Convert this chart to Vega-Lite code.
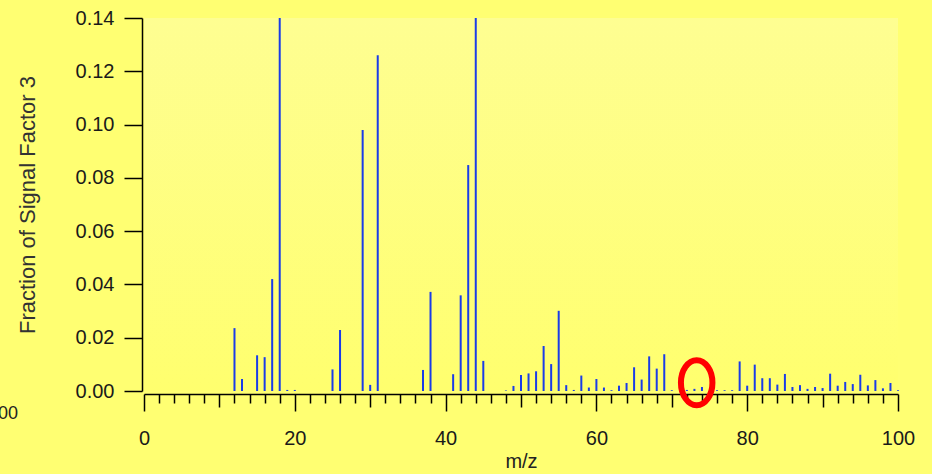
{
  "$schema": "https://vega.github.io/schema/vega-lite/v6.json",
  "width": 754,
  "height": 373,
  "autosize": {"type": "none"},
  "padding": {"left": 144, "top": 18, "right": 34, "bottom": 83},
  "background": "#FFFF72",
  "config": {
    "view": {
      "stroke": null,
      "fill": {"gradient": "linear", "x1": 0, "y1": 0, "x2": 0, "y2": 1,
        "stops": [{"offset": 0, "color": "#FEFE92"}, {"offset": 1, "color": "#FFFF6E"}]}
    },
    "font": "Liberation Sans"
  },
  "datasets": {
    "spectrum": [
      {"mz": 12, "frac": 0.0236}, {"mz": 13, "frac": 0.0045}, {"mz": 15, "frac": 0.0134}, {"mz": 16, "frac": 0.0127},
      {"mz": 17, "frac": 0.042}, {"mz": 18, "frac": 0.14}, {"mz": 19, "frac": 0.0004}, {"mz": 20, "frac": 0.0004},
      {"mz": 25, "frac": 0.0081}, {"mz": 26, "frac": 0.0229}, {"mz": 29, "frac": 0.098}, {"mz": 30, "frac": 0.0023},
      {"mz": 31, "frac": 0.126}, {"mz": 37, "frac": 0.0079}, {"mz": 38, "frac": 0.0372}, {"mz": 41, "frac": 0.0063},
      {"mz": 42, "frac": 0.0359}, {"mz": 43, "frac": 0.0848}, {"mz": 44, "frac": 0.14}, {"mz": 45, "frac": 0.0113},
      {"mz": 48, "frac": 0.0002}, {"mz": 49, "frac": 0.0019}, {"mz": 50, "frac": 0.006}, {"mz": 51, "frac": 0.0066},
      {"mz": 52, "frac": 0.0074}, {"mz": 53, "frac": 0.0169}, {"mz": 54, "frac": 0.0101}, {"mz": 55, "frac": 0.0301},
      {"mz": 56, "frac": 0.0022}, {"mz": 57, "frac": 0.0004}, {"mz": 58, "frac": 0.0058}, {"mz": 59, "frac": 0.0013},
      {"mz": 60, "frac": 0.0045}, {"mz": 61, "frac": 0.0013}, {"mz": 62, "frac": 0.0003}, {"mz": 63, "frac": 0.002},
      {"mz": 64, "frac": 0.003}, {"mz": 65, "frac": 0.0089}, {"mz": 66, "frac": 0.0043}, {"mz": 67, "frac": 0.013},
      {"mz": 68, "frac": 0.0084}, {"mz": 69, "frac": 0.0138}, {"mz": 70, "frac": 0.0003}, {"mz": 72, "frac": 0.0004},
      {"mz": 73, "frac": 0.0008}, {"mz": 74, "frac": 0.0015}, {"mz": 76, "frac": 0.0003}, {"mz": 77, "frac": 0.0003},
      {"mz": 78, "frac": 0.0003}, {"mz": 79, "frac": 0.0111}, {"mz": 80, "frac": 0.002}, {"mz": 81, "frac": 0.0099},
      {"mz": 82, "frac": 0.0048}, {"mz": 83, "frac": 0.0048}, {"mz": 84, "frac": 0.0024}, {"mz": 85, "frac": 0.0064},
      {"mz": 86, "frac": 0.0015}, {"mz": 87, "frac": 0.0022}, {"mz": 88, "frac": 0.0008}, {"mz": 89, "frac": 0.0015},
      {"mz": 90, "frac": 0.0011}, {"mz": 91, "frac": 0.0065}, {"mz": 92, "frac": 0.002}, {"mz": 93, "frac": 0.0034},
      {"mz": 94, "frac": 0.0026}, {"mz": 95, "frac": 0.0061}, {"mz": 96, "frac": 0.0021}, {"mz": 97, "frac": 0.0041},
      {"mz": 98, "frac": 0.001}, {"mz": 99, "frac": 0.003}, {"mz": 100, "frac": 0.0003}
    ],
    "highlight": [{"mz": 73.3, "frac": 0.0031}],
    "remnant": [{"mz": -18.7, "frac": -0.0086, "label": "100"}]
  },
  "layer": [
    {
      "data": {"name": "spectrum"},
      "mark": {"type": "rule", "color": "#1a3ce8", "strokeWidth": 2},
      "encoding": {
        "x": {
          "field": "mz", "type": "quantitative",
          "scale": {"domain": [0, 100], "nice": false, "zero": false},
          "axis": {
            "title": "m/z",
            "titleFont": "Liberation Sans", "titleFontSize": 20, "titleFontWeight": "normal", "titleColor": "#222",
            "titlePadding": 3,
            "offset": 3,
            "tickCount": 100,
            "values": [0,2,4,6,8,10,12,14,16,18,20,22,24,26,28,30,32,34,36,38,40,42,44,46,48,50,52,54,56,58,60,62,64,66,68,70,72,74,76,78,80,82,84,86,88,90,92,94,96,98,100],
            "labelExpr": "datum.value % 20 === 0 ? datum.label : ''",
            "labelOverlap": false, "labelFlush": false,
            "labelFont": "Liberation Sans", "labelFontSize": 20, "labelColor": "#1a1a1a",
            "labelPadding": 17,
            "tickSize": {"condition": [{"test": "datum.value % 20 === 0", "value": 17}, {"test": "datum.value % 10 === 0", "value": 13}], "value": 9},
            "tickColor": "#000", "tickWidth": 1.5,
            "domainColor": "#000", "domainWidth": 1.5,
            "grid": false
          }
        },
        "y": {
          "field": "frac", "type": "quantitative",
          "scale": {"domain": [0, 0.14], "nice": false},
          "axis": {
            "title": "Fraction of Signal Factor 3",
            "titleFont": "Liberation Sans", "titleFontSize": 22, "titleFontWeight": "normal", "titleColor": "#333",
            "titlePadding": 36,
            "offset": 2,
            "values": [0, 0.02, 0.04, 0.06, 0.08, 0.1, 0.12, 0.14],
            "format": ".2f",
            "labelFont": "Liberation Sans", "labelFontSize": 20, "labelColor": "#1a1a1a",
            "labelPadding": 10,
            "tickSize": 18, "tickColor": "#000", "tickWidth": 1.5,
            "domainColor": "#000", "domainWidth": 1.5,
            "grid": false
          }
        },
        "y2": {"datum": 0}
      }
    },
    {
      "data": {"name": "highlight"},
      "mark": {
        "type": "point", "filled": false, "stroke": "#ff0000", "strokeWidth": 6, "opacity": 1, "size": 2025,
        "shape": "M0,-1 A0.7,1 0 1,1 0,1 A0.7,1 0 1,1 0,-1 Z"
      },
      "encoding": {
        "x": {"field": "mz", "type": "quantitative"},
        "y": {"field": "frac", "type": "quantitative"}
      }
    },
    {
      "data": {"name": "remnant"},
      "mark": {"type": "text", "font": "Liberation Sans", "fontSize": 18, "color": "#222", "align": "center", "baseline": "middle"},
      "encoding": {
        "x": {"field": "mz", "type": "quantitative"},
        "y": {"field": "frac", "type": "quantitative"},
        "text": {"field": "label"}
      }
    }
  ]
}
